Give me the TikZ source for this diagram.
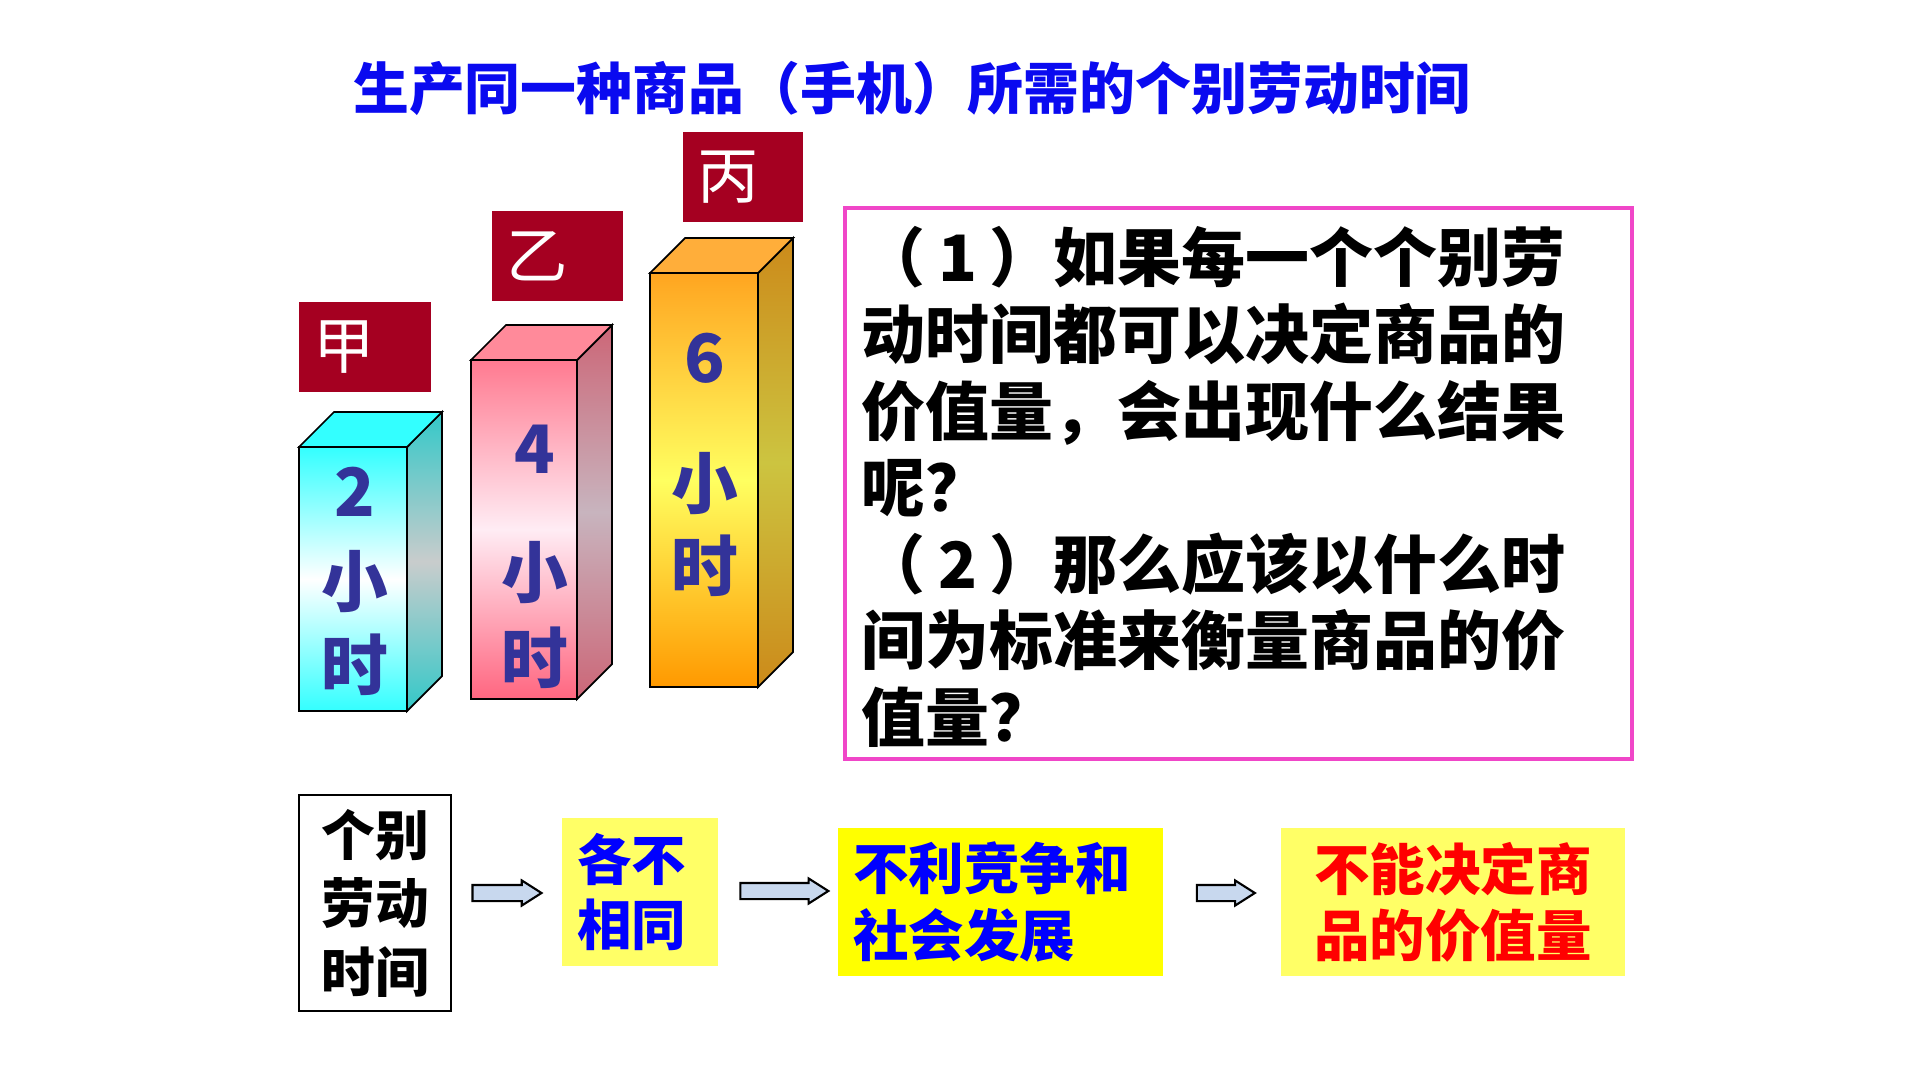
\documentclass[tikz,border=0pt]{standalone}
\usepackage{fontspec}
\setmainfont{Noto Sans CJK SC}
\usetikzlibrary{shapes.arrows,positioning,calc}
\definecolor{titleblue}{RGB}{10,10,240}
\definecolor{labelred}{RGB}{165,0,33}
\definecolor{barblue}{RGB}{51,51,153}
\definecolor{boxpink}{RGB}{240,70,200}
\definecolor{pureyellow}{RGB}{255,255,0}
\definecolor{softyellow}{RGB}{255,255,102}
\definecolor{arrowfill}{RGB}{200,216,238}
\definecolor{textblue}{RGB}{0,0,255}
\definecolor{textred}{RGB}{255,0,0}
% bar colours
\definecolor{cyantop}{RGB}{51,255,255}
\definecolor{cyanside}{RGB}{51,200,200}
\definecolor{cyanmid}{RGB}{200,204,204}
\definecolor{pinktop}{RGB}{255,122,144}
\definecolor{pinkbot}{RGB}{255,102,128}
\definecolor{pinkmid}{RGB}{255,236,244}
\definecolor{pinkside}{RGB}{204,102,119}
\definecolor{pinksidemid}{RGB}{200,180,190}
\definecolor{pinkcap}{RGB}{255,138,154}
\definecolor{orangetop}{RGB}{255,165,32}
\definecolor{orangebot}{RGB}{255,153,0}
\definecolor{orangemid}{RGB}{255,255,96}
\definecolor{orangeside}{RGB}{204,138,26}
\definecolor{orangesidemid}{RGB}{204,196,64}
\definecolor{orangecap}{RGB}{255,174,58}

\begin{document}
\begin{tikzpicture}[
  barface/.style={draw=black, line width=0.5pt},
  barnum/.style={text=barblue, font=\fontsize{19}{19}\selectfont\bfseries, inner sep=0},
  namebox/.style={fill=labelred, text=white, font=\fontsize{17.5}{17.5}\selectfont, inner xsep=0.14cm, align=left, minimum height=0.9cm},
  flowbox/.style={minimum height=1.48cm, inner xsep=0.15cm, font=\fontsize{15.8}{18.8}\selectfont\bfseries},
  blockarrow/.style={single arrow, draw=black, fill=arrowfill, line width=0.6pt, minimum width=0.23cm, single arrow head extend=0.045cm, single arrow tip angle=65, inner xsep=0, inner ysep=0.07cm}
]
\useasboundingbox (0,0) rectangle (19.2,-10.8);

% Title
\node[text=titleblue, font=\fontsize{15.9}{15.9}\selectfont\bfseries] (title) at (9.12,-0.88) {生产同一种商品（手机）所需的个别劳动时间};

% Bar 甲
\shade[barface, top color=cyantop, bottom color=cyantop, middle color=white] (2.99,-4.47) rectangle (4.07,-7.11);
\shade[barface, top color=cyanside, bottom color=cyanside, middle color=cyanmid] (4.07,-4.47) -- (4.42,-4.12) -- (4.42,-6.76) -- (4.07,-7.11) -- cycle;
\draw[barface, fill=cyantop] (2.99,-4.47) -- (3.34,-4.12) -- (4.42,-4.12) -- (4.07,-4.47) -- cycle;

% Bar 乙
\shade[barface, top color=pinktop, bottom color=pinkbot, middle color=pinkmid] (4.71,-3.60) rectangle (5.77,-6.99);
\shade[barface, top color=pinkside, bottom color=pinkside, middle color=pinksidemid] (5.77,-3.60) -- (6.12,-3.25) -- (6.12,-6.64) -- (5.77,-6.99) -- cycle;
\draw[barface, fill=pinkcap] (4.71,-3.60) -- (5.06,-3.25) -- (6.12,-3.25) -- (5.77,-3.60) -- cycle;

% Bar 丙
\shade[barface, top color=orangetop, bottom color=orangebot, middle color=orangemid] (6.50,-2.73) rectangle (7.58,-6.87);
\shade[barface, top color=orangeside, bottom color=orangeside, middle color=orangesidemid] (7.58,-2.73) -- (7.93,-2.38) -- (7.93,-6.52) -- (7.58,-6.87) -- cycle;
\draw[barface, fill=orangecap] (6.50,-2.73) -- (6.85,-2.38) -- (7.93,-2.38) -- (7.58,-2.73) -- cycle;

% Bar labels
\node[namebox, text width=1.04cm] (jia) at (3.65,-3.475) {甲};
\node[namebox, text width=1.03cm] (yi) at (5.575,-2.565) {乙};
\node[namebox, text width=0.92cm] (bing) at (7.43,-1.775) {丙};

% Hours on the bars
\node[barnum] (jianum) at (3.55,-4.92) {2};
\node[barnum] (jiaxiao) at (3.55,-5.82) {小};
\node[barnum] (jiashi) at (3.55,-6.65) {时};
\node[barnum] (yinum) at (5.35,-4.49) {4};
\node[barnum] (yixiao) at (5.35,-5.73) {小};
\node[barnum] (yishi) at (5.35,-6.58) {时};
\node[barnum] (bingnum) at (7.05,-3.58) {6};
\node[barnum] (bingxiao) at (7.05,-4.84) {小};
\node[barnum] (bingshi) at (7.05,-5.66) {时};

% Question box
\node[draw=boxpink, line width=1pt, minimum width=7.87cm, minimum height=5.51cm] (qbox) at (12.385,-4.835) {};
\node[anchor=north west, inner sep=0, text width=7.2cm, align=left, font=\fontsize{18.2}{21.8}\selectfont\bfseries] (qtext) at (8.61,-2.26) {（\makebox[1em]{1}）如果每一个个别劳\\动时间都可以决定商品的\\价值量，会出现什么结果\\呢？\\（\makebox[1em]{2}）那么应该以什么时\\间为标准来衡量商品的价\\值量？};

% Flow row
\node[draw=black, fill=white, line width=0.6pt, minimum width=1.52cm, minimum height=2.16cm, align=center, font=\fontsize{15.3}{19.5}\selectfont\bfseries] (indiv) at (3.75,-9.03) {个别\\劳动\\时间};
\node[flowbox, fill=softyellow, text=textblue, text width=1.26cm, align=left, font=\fontsize{15.5}{18.5}\selectfont\bfseries] (differ) at (6.40,-8.92) {各不\\相同};
\node[flowbox, fill=pureyellow, text=textblue, text width=2.95cm, align=left] (hinder) at (10.005,-9.02) {不利竞争和\\社会发展};
\node[flowbox, fill=softyellow, text=textred, text width=3.14cm, align=center] (cannot) at (14.53,-9.02) {不能决定商\\品的价值量};

% Arrows
\node[blockarrow, minimum height=0.69cm] (arr1) at ($(indiv.east)!0.5!(differ.west)+(-0.06,0.045)$) {};
\node[blockarrow, minimum height=0.88cm] (arr2) at ($(differ.east)!0.5!(hinder.west)+(0,0.06)$) {};
\node[blockarrow, minimum height=0.58cm] (arr3) at ($(hinder.east)!0.5!(cannot.west)+(-0.025,0.09)$) {};

\end{tikzpicture}
\end{document}
